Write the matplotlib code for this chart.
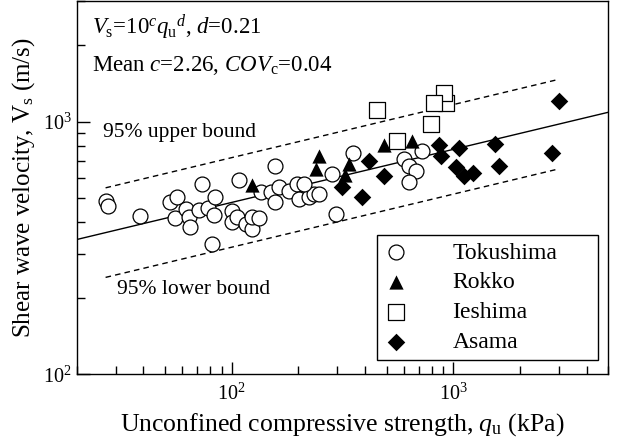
import numpy as np
import matplotlib
matplotlib.use('Agg')
import matplotlib.pyplot as plt
from matplotlib.ticker import NullFormatter

plt.rcParams['font.family'] = ['Liberation Serif', 'DejaVu Serif']
plt.rcParams['mathtext.fontset'] = 'custom'
plt.rcParams['mathtext.rm'] = 'Liberation Serif'
plt.rcParams['mathtext.it'] = 'Liberation Serif:italic'
plt.rcParams['mathtext.bf'] = 'Liberation Serif:bold'

# Data: qu (kPa), Vs (m/s)
toku_qu = [27.2, 27.8, 38.7, 52.9, 56.9, 55.7, 62.5, 64.4, 65.1, 71.5, 73.8,
           78.5, 84.4, 83.5, 81.8, 100, 100, 108, 106, 116, 123, 123, 133,
           157, 136, 151, 164, 157, 182, 198, 202, 224, 236, 213, 249, 284,
           296, 351, 601, 632, 680, 632, 725]
toku_vs = [486, 464, 424, 482, 504, 416, 452, 420, 383, 448, 568,
           456, 504, 428, 327, 444, 401, 589, 420, 394, 376, 420, 416,
           670, 528, 528, 552, 482, 532, 568, 495, 504, 519, 568, 519, 622,
           431, 748, 714, 670, 640, 578, 762]

rokko_qu = [123, 249, 241, 340, 326, 489, 653]
rokko_vs = [563, 734, 652, 682, 617, 805, 841]

iesh_qu = [454, 558, 796, 929, 910, 821]
iesh_vs = [1109, 835, 975, 1183, 1297, 1183]

asama_qu = [313, 389, 418, 489, 865, 883, 1064, 1032, 1122, 1231, 1546,
            1611, 2798, 3006]
asama_vs = [552, 504, 701, 611, 805, 728, 783, 664, 611, 628, 813,
            670, 748, 1205]

# Regression Vs = 10^c * qu^d
C_MEAN = 2.26
D_EXP = 0.21
COV_C = 0.04
FIT_RANGE = [20, 5000]
BOUND_RANGE = [27, 3000]

fig = plt.figure(figsize=(6.17, 4.46), dpi=100)
ax = fig.add_axes([0.1243, 0.1608, 0.8616, 0.837])
ax.set_xscale('log')
ax.set_yscale('log')

q_fit = np.array(FIT_RANGE, dtype=float)
q_bnd = np.array(BOUND_RANGE, dtype=float)
c_half = 1.96 * COV_C * C_MEAN
ax.plot(q_fit, 10 ** C_MEAN * q_fit ** D_EXP, color='black', lw=1.0, zorder=1)
for sgn in (1, -1):
    ax.plot(q_bnd, 10 ** (C_MEAN + sgn * c_half) * q_bnd ** D_EXP,
            color='black', lw=1.0, dashes=(4, 3), zorder=1)

ax.scatter(toku_qu, toku_vs, marker='o', s=115, facecolors='white',
           edgecolors='black', linewidths=0.9, zorder=2, label='Tokushima')
ax.scatter(rokko_qu, rokko_vs, marker='^', s=105, color='black',
           linewidths=0, zorder=3, label='Rokko')
ax.scatter(iesh_qu, iesh_vs, marker='s', s=135, facecolors='white',
           edgecolors='black', linewidths=0.9, zorder=3, label='Ieshima')
ax.scatter(asama_qu, asama_vs, marker='D', s=80, color='black',
           linewidths=0, zorder=4, label='Asama')

ax.set_xlim(20, 5000)
ax.set_ylim(100, 3000)
ax.xaxis.set_minor_formatter(NullFormatter())
ax.yaxis.set_minor_formatter(NullFormatter())
ax.tick_params(which='both', direction='in', top=False, right=False,
               width=1, labelsize=14.5)
ax.tick_params(which='major', length=9)
ax.tick_params(which='minor', length=6)
ax.tick_params(axis='x', pad=7)
for sp in ax.spines.values():
    sp.set_linewidth(1)

ax.set_xlabel('Unconfined compressive strength, $q_{\\mathrm{u}}$ (kPa)', fontsize=18.5)
ax.set_ylabel('Shear wave velocity, V$_{\\mathrm{s}}$ (m/s)', fontsize=18)

ax.text(0.029, 0.911, '$V_{\\mathrm{s}}$=10$^{c}$$q_{\\mathrm{u}}{}^{d}$, $d$=0.21',
        transform=ax.transAxes, fontsize=16.5)
ax.text(0.029, 0.812, 'Mean $c$=2.26, $COV_{\\mathrm{c}}$=0.04',
        transform=ax.transAxes, fontsize=16.5)
ax.text(0.049, 0.636, '95% upper bound', transform=ax.transAxes, fontsize=15.5)
ax.text(0.076, 0.215, '95% lower bound', transform=ax.transAxes, fontsize=15.5)

leg = ax.legend(loc='lower left', bbox_to_anchor=(0.565, 0.038, 0.416, 0.3),
                mode='expand', borderaxespad=0, fontsize=17, fancybox=False,
                edgecolor='black', framealpha=1, handlelength=1.0,
                handletextpad=1.9, labelspacing=0.35, borderpad=0.3)
leg.get_frame().set_linewidth(1)

fig.savefig('out.png', dpi=100)
